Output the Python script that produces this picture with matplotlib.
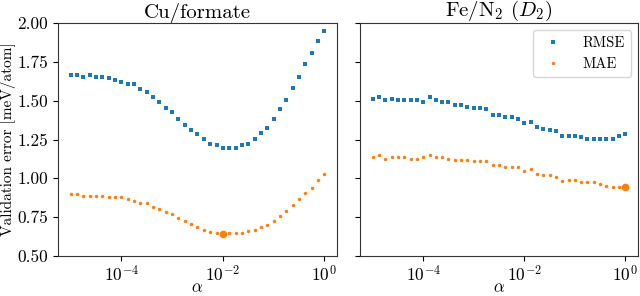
import numpy as np
import matplotlib
matplotlib.use("Agg")
import matplotlib.pyplot as plt
from matplotlib.ticker import NullLocator, FixedLocator

plt.rcParams['font.family'] = 'serif'
plt.rcParams['font.serif'] = ['cmr10', 'DejaVu Serif']
plt.rcParams['mathtext.fontset'] = 'cm'
plt.rcParams['axes.formatter.use_mathtext'] = True
plt.rcParams['axes.unicode_minus'] = False

alpha = np.logspace(-5, 0, 41)

cu_rmse = [1.665, 1.665, 1.654, 1.665, 1.654, 1.654, 1.644, 1.633, 1.622, 1.605,
           1.605, 1.573, 1.554, 1.524, 1.493, 1.453, 1.425, 1.382, 1.345, 1.311,
           1.285, 1.253, 1.221, 1.212, 1.193, 1.193, 1.193, 1.212, 1.223, 1.253,
           1.294, 1.322, 1.382, 1.446, 1.502, 1.584, 1.654, 1.738, 1.807, 1.884, 1.946]
cu_mae = [0.899, 0.901, 0.888, 0.888, 0.888, 0.888, 0.880, 0.880, 0.880, 0.867,
          0.854, 0.841, 0.839, 0.815, 0.802, 0.785, 0.768, 0.746, 0.727, 0.708,
          0.688, 0.665, 0.656, 0.650, 0.640, 0.648, 0.648, 0.648, 0.659, 0.670,
          0.687, 0.698, 0.727, 0.757, 0.788, 0.828, 0.868, 0.906, 0.938, 0.989, 1.030]

fe_rmse = [1.513, 1.521, 1.502, 1.513, 1.502, 1.502, 1.502, 1.502, 1.493, 1.524,
           1.502, 1.493, 1.493, 1.472, 1.472, 1.461, 1.451, 1.451, 1.448, 1.410,
           1.410, 1.393, 1.393, 1.380, 1.354, 1.360, 1.332, 1.320, 1.313, 1.307,
           1.272, 1.272, 1.272, 1.264, 1.253, 1.253, 1.253, 1.253, 1.253, 1.272, 1.283]
fe_mae = [1.139, 1.150, 1.126, 1.139, 1.139, 1.139, 1.126, 1.126, 1.139, 1.150,
          1.139, 1.139, 1.126, 1.120, 1.120, 1.120, 1.109, 1.109, 1.109, 1.088,
          1.088, 1.071, 1.071, 1.071, 1.049, 1.060, 1.030, 1.021, 1.021, 1.008,
          0.980, 0.989, 0.989, 0.978, 0.978, 0.978, 0.963, 0.953, 0.947, 0.947, 0.944]

titles = ["Cu/formate", r"Fe/N$_2$ ($D_2$)"]
yticks = [0.50, 0.75, 1.00, 1.25, 1.50, 1.75, 2.00]

blue = '#1f77b4'
orange = '#ff7f0e'

fig = plt.figure(figsize=(6.4, 2.96), dpi=100)
ax1 = fig.add_axes([58/640, 40/296, 279/640, 233/296])
ax2 = fig.add_axes([360/640, 40/296, 278/640, 233/296], sharey=ax1)

for ax, rmse, mae, title in [(ax1, cu_rmse, cu_mae, titles[0]), (ax2, fe_rmse, fe_mae, titles[1])]:
    ax.plot(alpha, rmse, 's', color=blue, ms=2.3, mew=0, label='RMSE')
    ax.plot(alpha, mae, 'o', color=orange, ms=2.5, mew=0, label='MAE')
    i = int(np.argmin(mae))
    ax.plot(alpha[i], mae[i], 'o', color=orange, ms=5.5, mew=0)
    ax.set_xscale('log')
    ax.xaxis.set_major_locator(FixedLocator([1e-4, 1e-2, 1e0]))
    ax.xaxis.set_minor_locator(NullLocator())
    ax.set_xlabel(r'$\alpha$', fontsize=12, labelpad=-3)
    ax.set_title(title, fontsize=15, pad=3)
    ax.tick_params(labelsize=12.5)
    ax.tick_params(axis='x', pad=2)
    for s in ax.spines.values():
        s.set_color('#333333')

ax1.set_ylim(0.5, 2.0)
ax1.set_yticks(yticks)
ax1.set_yticklabels(['%.2f' % v for v in yticks])
ax1.set_ylabel('Validation error [meV/atom]', fontsize=11, labelpad=1)
plt.setp(ax2.get_yticklabels(), visible=False)

ax2.legend(loc='upper right', fontsize=10.5, handlelength=2.0, handletextpad=1.0,
           borderpad=0.4, labelspacing=0.5)

fig.savefig('out.png', dpi=100)
